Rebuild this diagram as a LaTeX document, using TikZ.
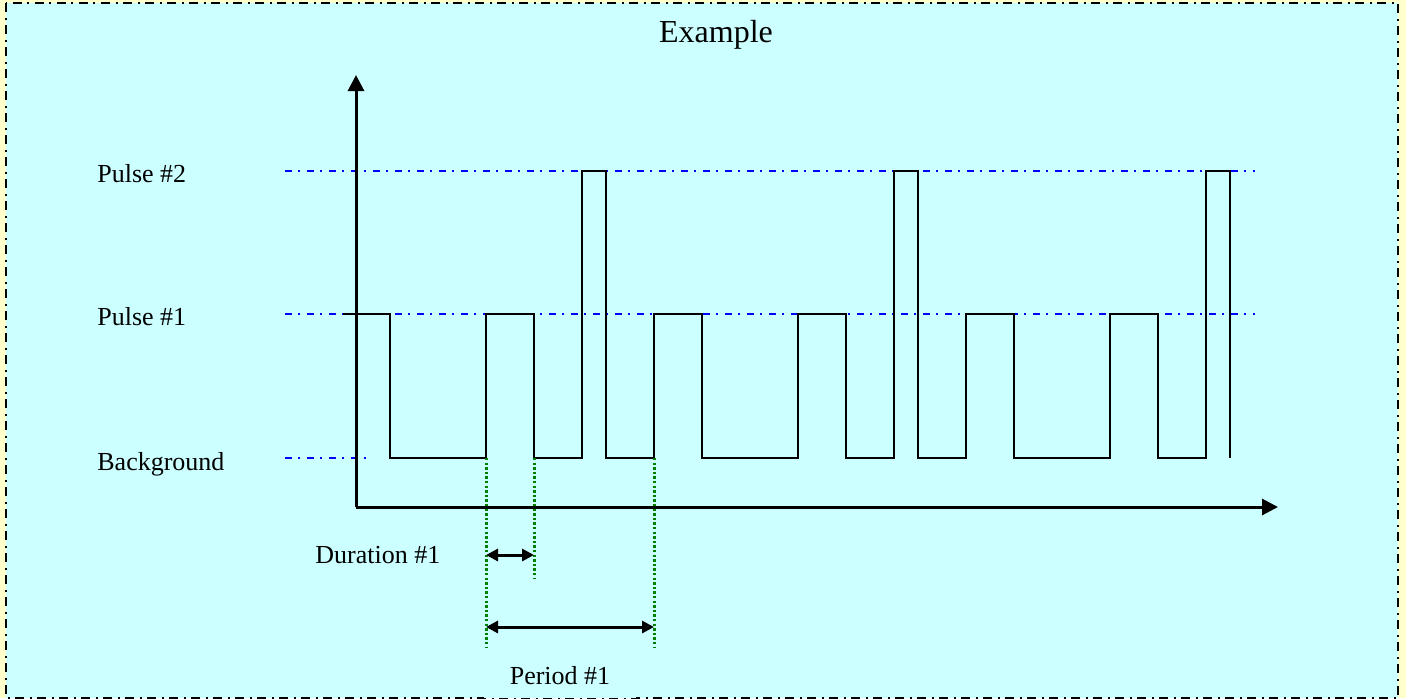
\documentclass[tikz,border=0pt]{standalone}
\usepackage{fontspec}
\setmainfont{Liberation Serif}
\usetikzlibrary{arrows.meta,positioning}
\definecolor{panelcyan}{HTML}{CCFFFF}
\definecolor{pageyellow}{HTML}{FFFFCC}

\begin{document}
\begin{tikzpicture}[x=0.5pt,y=-0.5pt,font=\fontsize{13}{15}\selectfont,
 frame/.style={black,line width=1.2pt,dash pattern=on 4.5pt off 2.75pt on 1pt off 2.75pt},
 level/.style={blue,line width=1pt,dash pattern=on 3.5pt off 3pt on 1pt off 3.5pt},
 marker/.style={green!50!black,line width=1.5pt,dash pattern=on 1.2pt off 1.1pt},
 signal/.style={black,line width=1pt},
 axis/.style={line width=1.5pt,-{Triangle[length=8pt,width=8pt]}},
 span/.style={line width=1.5pt,{Triangle[length=6pt,width=6pt]}-{Triangle[length=6pt,width=6pt]}},
 lbl/.style={anchor=base west,inner sep=0pt},
 cover/.style={fill=panelcyan,minimum width=76pt,minimum height=22pt,inner sep=0pt}]
\useasboundingbox (0,0) rectangle (1406,698);
\fill[pageyellow] (0,0) rectangle (1406,698);
\fill[panelcyan] (6,3) rectangle (1398,698);
\draw[frame] (6,3) rectangle (1398,698);
\node[font=\fontsize{16}{18}\selectfont] (title) at (716,35) {Example};
% levels
\node[lbl] (p2) at (97,182) {Pulse \#2};
\node[lbl] (p1) at (97,325) {Pulse \#1};
\node[lbl] (bg) at (97,470) {Background};
\draw[level] (285,171) -- (1255,171);
\draw[level] (285,314) -- (1255,314);
\draw[level] (285,458) -- (366,458);
% axes
\coordinate (origin) at (356,507);
\coordinate (ytip) at (356,75);
\coordinate (xtip) at (1278,507);
\draw[axis] (origin) -- (ytip);
\draw[axis] (origin) -- (xtip);
% pulse train
\draw[signal] (343,314) -| (390,458) -| (486,314) -| (534,458) -| (582,171) -| (606,458)
 -| (654,314) -| (702,458) -| (798,314) -| (846,458) -| (894,171) -| (918,458)
 -| (966,314) -| (1014,458) -| (1110,314) -| (1158,458) -| (1206,171) -| (1230,458);
% duration and period
\coordinate (r1) at (486,458);
\coordinate (f1) at (534,458);
\coordinate (r2) at (654,458);
\draw[marker] (r1) -- (r1 |- 0,648);
\draw[marker] (f1) -- (f1 |- 0,578);
\draw[marker] (r2) -- (r2 |- 0,648);
\draw[span] (r1 |- 0,555) -- (f1 |- 0,555);
\draw[span] (r1 |- 0,627) -- (r2 |- 0,627);
\node[lbl] (dur) at (315,563) {Duration \#1};
\node[cover] (period) at (560,676) {Period \#1};
\end{tikzpicture}
\end{document}
